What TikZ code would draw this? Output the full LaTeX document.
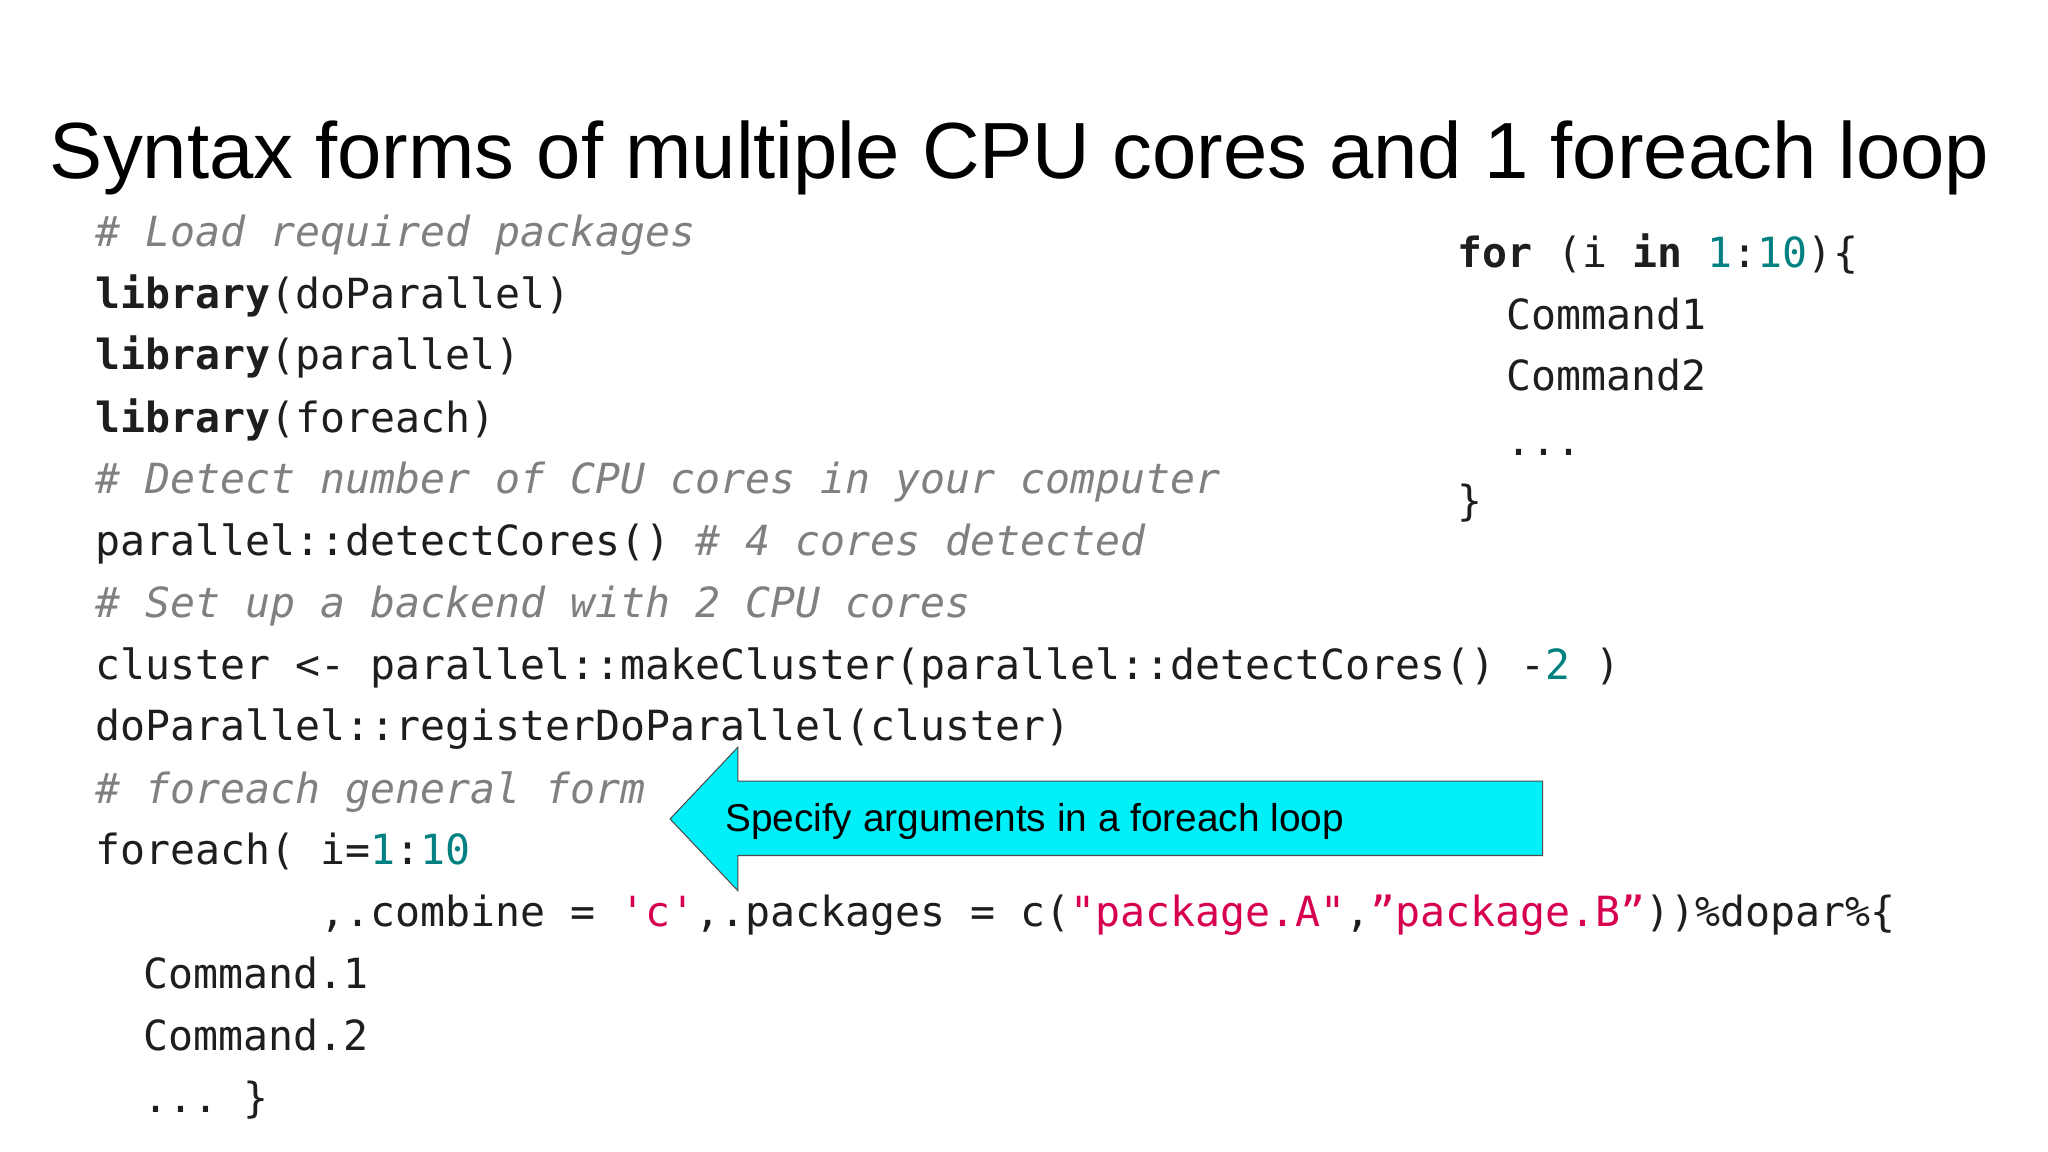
\documentclass[tikz,border=0pt]{standalone}
\usepackage{fontspec}
\setmainfont{Liberation Sans}
\setmonofont{DejaVu Sans Mono}
\usetikzlibrary{shapes.arrows}
\definecolor{cm}{RGB}{128,128,128}
\definecolor{nm}{RGB}{0,128,128}
\definecolor{st}{RGB}{215,0,80}
\definecolor{tx}{RGB}{30,30,30}
\definecolor{cy}{RGB}{0,240,250}
\newcommand{\cmt}[1]{\textcolor{cm}{\itshape #1}}
\newcommand{\num}[1]{\textcolor{nm}{#1}}
\newcommand{\str}[1]{\textcolor{st}{#1}}
\begin{document}
\begin{tikzpicture}[x=1pt,y=-1pt,
  code/.style={anchor=west,inner sep=0pt,font=\ttfamily\fontsize{31.8}{31.8}\selectfont,text=tx,text height=23pt,text depth=7pt}]
\useasboundingbox (0,0) rectangle (1568,882);
\fill[white] (0,0) rectangle (1568,882);
\node[anchor=west,inner sep=0pt,font=\fontsize{61}{61}\selectfont,text=black] (title) at (38,121) {Syntax forms of multiple CPU cores and 1 foreach loop};
\begin{scope}[yshift=-4pt]
\node[code] (l1) at (73,177) {\cmt{\# Load required packages}};
\node[code] (l2) at (73,224) {\textbf{library}(doParallel)};
\node[code] (l3) at (73,271) {\textbf{library}(parallel)};
\node[code] (l4) at (73,319) {\textbf{library}(foreach)};
\node[code] (l5) at (73,366) {\cmt{\# Detect number of CPU cores in your computer}};
\node[code] (l6) at (73,413) {parallel::detectCores() \cmt{\# 4 cores detected}};
\node[code] (l7) at (73,461) {\cmt{\# Set up a backend with 2 CPU cores}};
\node[code] (l8) at (73,508) {cluster <- parallel::makeCluster(parallel::detectCores() -\num{2} )};
\node[code] (l9) at (73,555) {doParallel::registerDoParallel(cluster)};
\node[code] (l10) at (73,603) {\cmt{\# foreach general form}};
\node[code] (l11) at (73,650) {foreach( i=\num{1}:\num{10}};
\node[code] (l12) at (245,697) {,.combine = \str{'c'},.packages = c(\str{"package.A"},\str{”package.B”}))\%dopar\%\{};
\node[code] (l13) at (110,745) {Command.1};
\node[code] (l14) at (110,792) {Command.2};
\node[code] (l15) at (110,840) {... \}};
\node[code] (r1) at (1116,193) {\textbf{for} (i \textbf{in} \num{1}:\num{10})\{};
\node[code] (r2) at (1153,240) {Command1};
\node[code] (r3) at (1153,287) {Command2};
\node[code] (r4) at (1153,337) {...};
\node[code] (r5) at (1116,383) {\}};
\end{scope}
\draw[draw=black!70,fill=cy,line width=0.8pt] (513,627) -- (565,572) -- (565,598) -- (1181,598) -- (1181,655) -- (565,655) -- (565,682) -- cycle;
\node[anchor=west,inner sep=0pt,font=\fontsize{29.7}{29.7}\selectfont,text=black] (lab) at (555,629) {Specify arguments in a foreach loop};
\end{tikzpicture}
\end{document}
